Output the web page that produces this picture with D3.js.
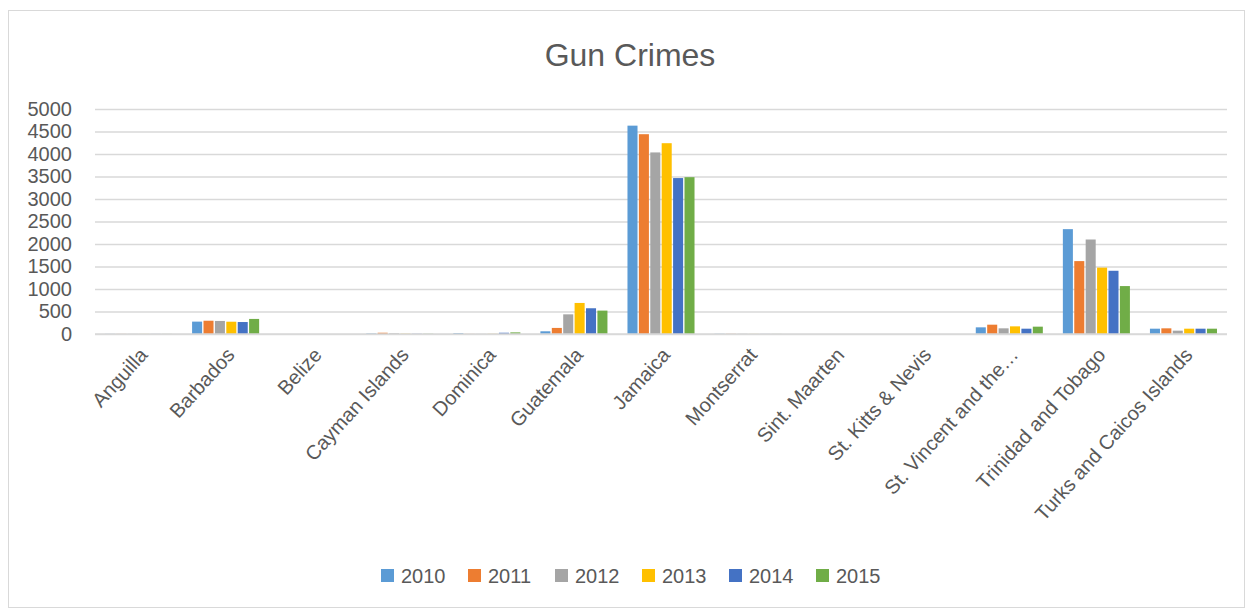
<!DOCTYPE html>
<html>
<head>
<meta charset="utf-8">
<script src="https://cdn.jsdelivr.net/npm/d3@7/dist/d3.min.js"></script>
<style>
  html, body { margin: 0; padding: 0; background: #fff; }
  svg text { font-family: "Liberation Sans", Arial, sans-serif; fill: #595959; }
</style>
</head>
<body>
<svg id="chart" width="1252" height="610"></svg>
<script>
// Gun crimes by country and year
const categories = ["Anguilla", "Barbados", "Belize", "Cayman Islands", "Dominica", "Guatemala",
  "Jamaica", "Montserrat", "Sint. Maarten", "St. Kitts & Nevis", "St. Vincent and the Grenadines",
  "Trinidad and Tobago", "Turks and Caicos Islands"];
const categoryLabels = ["Anguilla", "Barbados", "Belize", "Cayman Islands", "Dominica", "Guatemala",
  "Jamaica", "Montserrat", "Sint. Maarten", "St. Kitts & Nevis", "St. Vincent and the…",
  "Trinidad and Tobago", "Turks and Caicos Islands"];
const years = ["2010", "2011", "2012", "2013", "2014", "2015"];
const colors = ["#5B9BD5", "#ED7D31", "#A5A5A5", "#FFC000", "#4472C4", "#70AD47"];

const v2010 = [3, 275, 0, 12, 20, 60, 4630, 5, 0, 0, 148, 2330, 118];
const v2011 = [2, 295, 0, 28, 2, 135, 4440, 4, 0, 0, 207, 1620, 126];
const v2012 = [2, 290, 0, 16, 2, 437, 4035, 4, 0, 0, 126, 2100, 74];
const v2013 = [2, 273, 0, 6, 4, 690, 4240, 2, 0, 0, 170, 1475, 118];
const v2014 = [2, 266, 0, 5, 28, 572, 3465, 2, 0, 0, 118, 1405, 118];
const v2015 = [2, 335, 0, 5, 36, 520, 3485, 2, 0, 0, 163, 1065, 118];
const series = [v2010, v2011, v2012, v2013, v2014, v2015];
const yTicks = [0, 500, 1000, 1500, 2000, 2500, 3000, 3500, 4000, 4500, 5000];

const svg = d3.select("#chart");

// chart frame
svg.append("rect").attr("x", 8.5).attr("y", 10.5).attr("width", 1236).attr("height", 597)
  .attr("fill", "#fff").attr("stroke", "#d9d9d9").attr("stroke-width", 1);

const plot = { left: 95, right: 1227, top: 109, bottom: 334 };

const x0 = d3.scaleBand().domain(categories).range([plot.left, plot.right]).paddingInner(0.23).paddingOuter(0.115);
const x1 = d3.scaleBand().domain(years).range([0, x0.bandwidth()]).paddingInner(0.12);
const y = d3.scaleLinear().domain([0, 5000]).range([plot.bottom, plot.top]);

// title
svg.append("text").attr("x", 630).attr("y", 66).attr("text-anchor", "middle")
  .style("font-size", "32px").text("Gun Crimes");

// gridlines and value labels
const yAxis = d3.axisLeft(y).tickValues(yTicks).tickFormat(d3.format("d"))
  .tickSize(-(plot.right - plot.left)).tickPadding(22);
const ya = svg.append("g").attr("transform", `translate(${plot.left},0)`).call(yAxis);
ya.select(".domain").remove();
ya.selectAll(".tick line").attr("stroke", "#d9d9d9").attr("stroke-width", 1.3);
ya.selectAll(".tick text").style("font-size", "20px").attr("fill", "#595959").attr("x", -23);

// bars
const groups = svg.append("g").selectAll("g").data(categories).join("g")
  .attr("transform", d => `translate(${x0(d)},0)`);
groups.selectAll("rect")
  .data((c, ci) => years.map((yr, si) => ({ yr, si, v: series[si][ci] })))
  .join("rect")
  .attr("x", d => x1(d.yr))
  .attr("width", x1.bandwidth())
  .attr("y", d => y(d.v))
  .attr("height", d => y(0) - y(d.v))
  .attr("fill", d => colors[d.si]);

// category axis line
svg.append("line").attr("x1", plot.left).attr("x2", plot.right)
  .attr("y1", y(0)).attr("y2", y(0)).attr("stroke", "#d9d9d9").attr("stroke-width", 1.5);

// category labels, rotated
const xAxis = d3.axisBottom(x0).tickSize(0).tickFormat((d, i) => categoryLabels[i]);
const xa = svg.append("g").attr("transform", `translate(0,${y(0)})`).call(xAxis);
xa.select(".domain").remove();
xa.selectAll(".tick text")
  .style("font-size", "20px")
  .attr("fill", "#595959")
  .attr("text-anchor", "end")
  .attr("dy", "0.35em")
  .attr("y", 0)
  .attr("transform", "translate(5,17) rotate(-48)");

// legend
const legend = svg.append("g").attr("transform", "translate(381,576)");
const items = legend.selectAll("g").data(years).join("g")
  .attr("transform", (d, i) => `translate(${i * 87},0)`);
items.append("rect").attr("x", 0).attr("y", -7).attr("width", 13).attr("height", 13)
  .attr("fill", (d, i) => colors[i]);
items.append("text").attr("x", 20).attr("y", 0).attr("dy", "0.36em")
  .style("font-size", "20px").text(d => d);
</script>
</body>
</html>
